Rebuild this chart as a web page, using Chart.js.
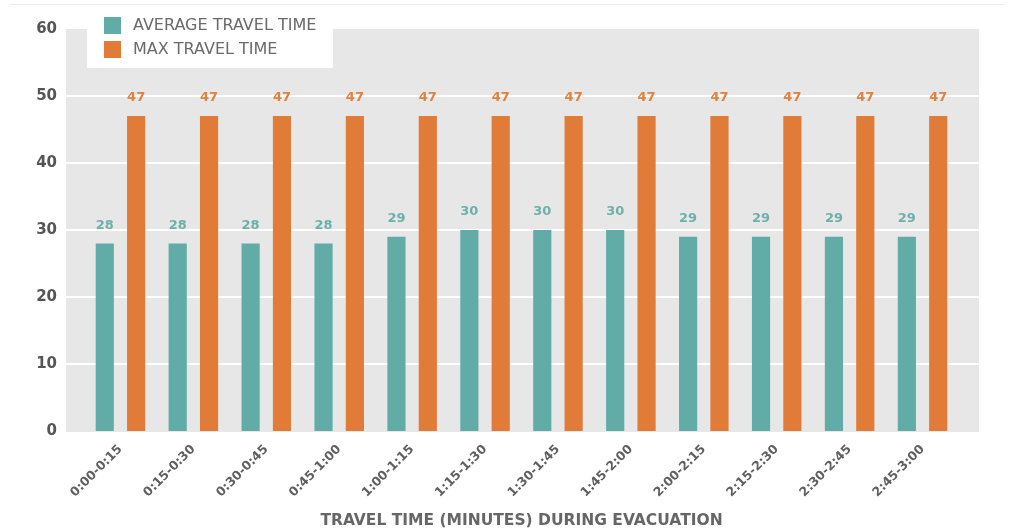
<!DOCTYPE html>
<html><head><meta charset="utf-8">
<style>html,body{margin:0;padding:0;background:#fff;overflow:hidden}#wrap{position:relative;width:1009px;height:531px}canvas{display:block}</style>
<script src="https://cdn.jsdelivr.net/npm/chart.js@4/dist/chart.umd.min.js"></script>
</head><body><div id="wrap"><canvas id="c" width="1009" height="531"></canvas></div>
<script>
const categories = ['0:00-0:15','0:15-0:30','0:30-0:45','0:45-1:00','1:00-1:15','1:15-1:30','1:30-1:45','1:45-2:00','2:00-2:15','2:15-2:30','2:30-2:45','2:45-3:00'];
const averageTravelTime = [28,28,28,28,29,30,30,30,29,29,29,29];
const maxTravelTime = [47,47,47,47,47,47,47,47,47,47,47,47];
const seriesNames = ['AVERAGE TRAVEL TIME','MAX TRAVEL TIME'];
const yMin = 0, yMax = 60, yStep = 10;
const axisTitle = 'TRAVEL TIME (MINUTES) DURING EVACUATION';

const barColors = ['#62aca8','#e07b38'];
const labelColors = ['#6db0ab','#e0823f'];
const FONT = '"DejaVu Sans", sans-serif';

const backgroundPlugin = {
  id: 'bg',
  beforeDatasetsDraw(chart) {
    const {ctx, chartArea, scales} = chart;
    ctx.save();
    ctx.strokeStyle = '#ebebeb';
    ctx.lineWidth = 1;
    ctx.beginPath(); ctx.moveTo(10, 4.5); ctx.lineTo(1005, 4.5); ctx.stroke();
    const left = chartArea.left - 18, right = chartArea.right + 20;
    ctx.fillStyle = '#e7e7e7';
    ctx.fillRect(left, chartArea.top, right - left, chartArea.bottom - chartArea.top + 1);
    ctx.strokeStyle = '#ffffff';
    ctx.lineWidth = 2;
    scales.y.ticks.forEach(t => {
      if (t.value <= yMin || t.value >= yMax) return;
      const y = Math.round(scales.y.getPixelForValue(t.value));
      ctx.beginPath(); ctx.moveTo(left, y); ctx.lineTo(right, y); ctx.stroke();
    });
    ctx.restore();
  }
};

const valueLabelPlugin = {
  id: 'valueLabels',
  afterDatasetsDraw(chart) {
    const {ctx} = chart;
    ctx.save();
    ctx.font = 'bold 13px ' + FONT;
    ctx.textAlign = 'center';
    ctx.textBaseline = 'middle';
    chart.data.datasets.forEach((ds, di) => {
      const meta = chart.getDatasetMeta(di);
      ctx.fillStyle = labelColors[di];
      meta.data.forEach((bar, i) => {
        ctx.fillText(String(ds.data[i]), bar.x, bar.y - 18);
      });
    });
    ctx.restore();
  }
};

const legendPlugin = {
  id: 'boxLegend',
  afterDraw(chart) {
    const {ctx} = chart;
    ctx.save();
    ctx.fillStyle = '#ffffff';
    ctx.fillRect(87, 8, 246, 60);
    ctx.font = '16px ' + FONT;
    ctx.textBaseline = 'middle';
    ctx.textAlign = 'left';
    chart.data.datasets.forEach((ds, i) => {
      const y = 17 + i * 24;
      ctx.fillStyle = barColors[i];
      ctx.fillRect(104, y, 17, 17);
      ctx.fillStyle = '#6a6a6a';
      ctx.fillText(ds.label, 133, y + 9);
    });
    ctx.restore();
  }
};

new Chart(document.getElementById('c'), {
  type: 'bar',
  data: {
    labels: categories,
    datasets: [
      {label: seriesNames[0], data: averageTravelTime, backgroundColor: barColors[0]},
      {label: seriesNames[1], data: maxTravelTime, backgroundColor: barColors[1]}
    ]
  },
  options: {
    responsive: false,
    devicePixelRatio: 1,
    animation: false,
    categoryPercentage: 0.86,
    barPercentage: 0.58,
    layout: {padding: {top: 29, right: 50, left: 0, bottom: 0}},
    plugins: {legend: {display: false}, tooltip: {enabled: false}},
    scales: {
      x: {
        grid: {display: false, drawTicks: false},
        border: {display: false},
        ticks: {
          autoSkip: false, minRotation: 45, maxRotation: 45,
          color: '#5f5f5f', padding: 11,
          font: {family: FONT, size: 12.5, weight: 'bold'}
        },
        title: {
          display: true, text: axisTitle, color: '#666666',
          font: {family: FONT, size: 15.5, weight: 'bold'},
          padding: {top: 0, bottom: 1}
        },
        afterFit(s) { s.height = 100; }
      },
      y: {
        min: yMin, max: yMax,
        grid: {display: false, drawTicks: false},
        border: {display: false},
        ticks: {
          stepSize: yStep, color: '#555555', padding: 27,
          font: {family: FONT, size: 15, weight: 'bold'}
        },
        afterFit(s) { s.width = 84; s.paddingTop = 0; s.paddingBottom = 0; }
      }
    }
  },
  plugins: [backgroundPlugin, valueLabelPlugin, legendPlugin]
});
</script>
</body></html>
